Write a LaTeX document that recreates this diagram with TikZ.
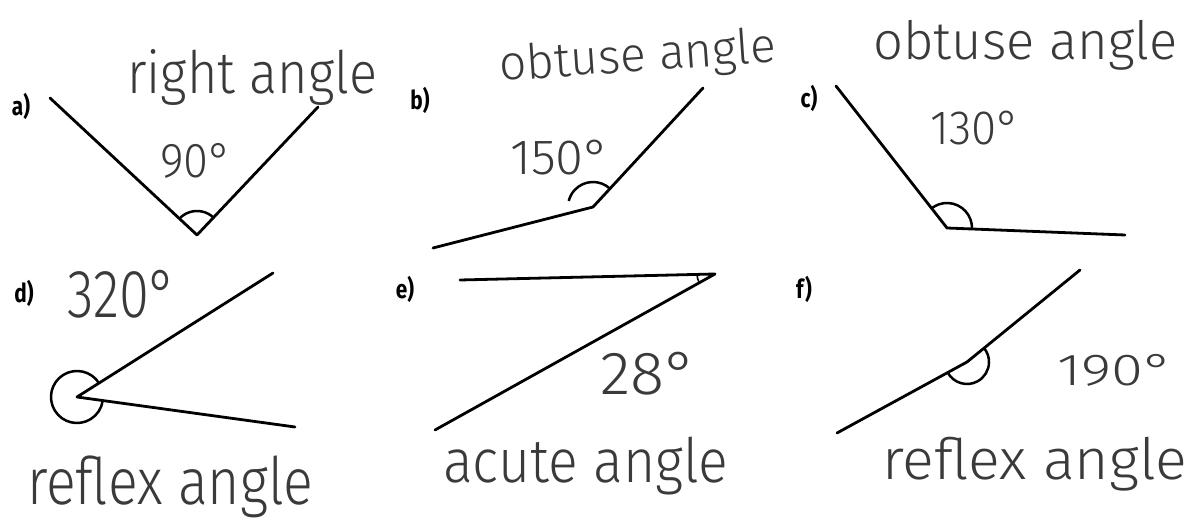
\documentclass[tikz,border=0pt]{standalone}
\usepackage{fontspec}
\usepackage{graphicx}
\setmainfont{Fira Sans}
\newfontfamily\hand{Fira Sans Light}
\newcommand{\hw}[3]{\resizebox*{#1}{#2}{\hand #3}}
\definecolor{ink}{HTML}{3A3A3A}
\tikzset{
  arm/.style={line width=2.8pt, line cap=round, line join=round},
  anglearc/.style={line width=2.5pt},
  hwtext/.style={inner sep=0pt, anchor=base west, text=ink},
  lbl/.style={inner sep=0pt, font=\fontsize{26}{26}\selectfont\bfseries, xscale=0.8}
}
\begin{document}
\begin{tikzpicture}[x=1pt,y=1pt]
\useasboundingbox (0,0) rectangle (1204,527);
\fill[white] (0,0) rectangle (1204,527);

% ---------- labels
\node[lbl] (la) at (21,421) {a)};
\node[lbl] (lb) at (420,427) {b)};
\node[lbl] (lc) at (809,429) {c)};
\node[lbl] (ld) at (24,234) {d)};
\node[lbl] (le) at (405,238) {e)};
\node[lbl] (lf) at (804,238) {f)};

% ---------- a) right angle
\coordinate (aL) at (50,429);
\coordinate (aV) at (197,292);
\coordinate (aR) at (318,420);
\draw[arm] (aL) -- (aV) -- (aR);
\draw[anglearc] ([shift={(46.6:24)}]aV) arc[start angle=46.6, end angle=137, radius=24];
\node[hwtext] (ta) at (127,433) {\hw{250pt}{56pt}{right angle}};
\node[hwtext] (na) at (160,349) {\hw{72pt}{35pt}{90°}};

% ---------- b) obtuse angle 150
\coordinate (bL) at (433,279);
\coordinate (bV) at (593,320);
\coordinate (bR) at (703,439);
\draw[arm] (bL) -- (bV) -- (bR);
\draw[anglearc] ([shift={(47:25)}]bV) arc[start angle=47, end angle=166, radius=25];
\node[hwtext, rotate=4] (tb) at (500,446) {\hw{277pt}{46pt}{obtuse angle}};
\node[hwtext] (nb) at (510,352) {\hw{100pt}{35pt}{150°}};

% ---------- c) obtuse angle 130
\coordinate (cU) at (836,441);
\coordinate (cV) at (947,299);
\coordinate (cR) at (1125,292);
\draw[arm] (cU) -- (cV) -- (cR);
\draw[anglearc] ([shift={(-2.3:25)}]cV) arc[start angle=-2.3, end angle=128, radius=25];
\node[hwtext] (tc) at (873,467) {\hw{304pt}{50pt}{obtuse angle}};
\node[hwtext] (nc) at (930,382) {\hw{90pt}{34pt}{130°}};

% ---------- d) reflex angle 320
\coordinate (dV) at (77,130);
\coordinate (dU) at (273,254);
\coordinate (dL) at (295,100);
\draw[arm] (dU) -- (dV) -- (dL);
\draw[anglearc] ([shift={(32:26)}]dV) arc[start angle=32, end angle=352, radius=26];
\node[hwtext] (nd) at (67,209) {\hw{110pt}{48pt}{320°}};
\node[hwtext] (td) at (27,22) {\hw{286pt}{62pt}{reflex angle}};

% ---------- e) acute angle 28
\coordinate (eV) at (715,253);
\coordinate (eU) at (460,247);
\coordinate (eL) at (435,97);
\draw[arm] (eU) -- (eV) -- (eL);
\draw[anglearc, line width=1.6pt] ([shift={(181:18)}]eV) arc[start angle=181, end angle=209, radius=18];
\node[hwtext] (ne) at (600,132) {\hw{97pt}{43pt}{28°}};
\node[hwtext] (te) at (443,44) {\hw{285pt}{58pt}{acute angle}};

% ---------- f) reflex angle 190
\coordinate (fV) at (967,165);
\coordinate (fL) at (837,94);
\coordinate (fU) at (1080,257);
\draw[arm] (fL) -- (fV) -- (fU);
\draw[anglearc] ([shift={(208.6:22)}]fV) arc[start angle=208.6, end angle=399, radius=22];
\node[hwtext] (nf) at (1057,141) {\hw{116pt}{32pt}{190°}};
\node[hwtext] (tf) at (882,47) {\hw{305pt}{54pt}{reflex angle}};
\end{tikzpicture}
\end{document}
